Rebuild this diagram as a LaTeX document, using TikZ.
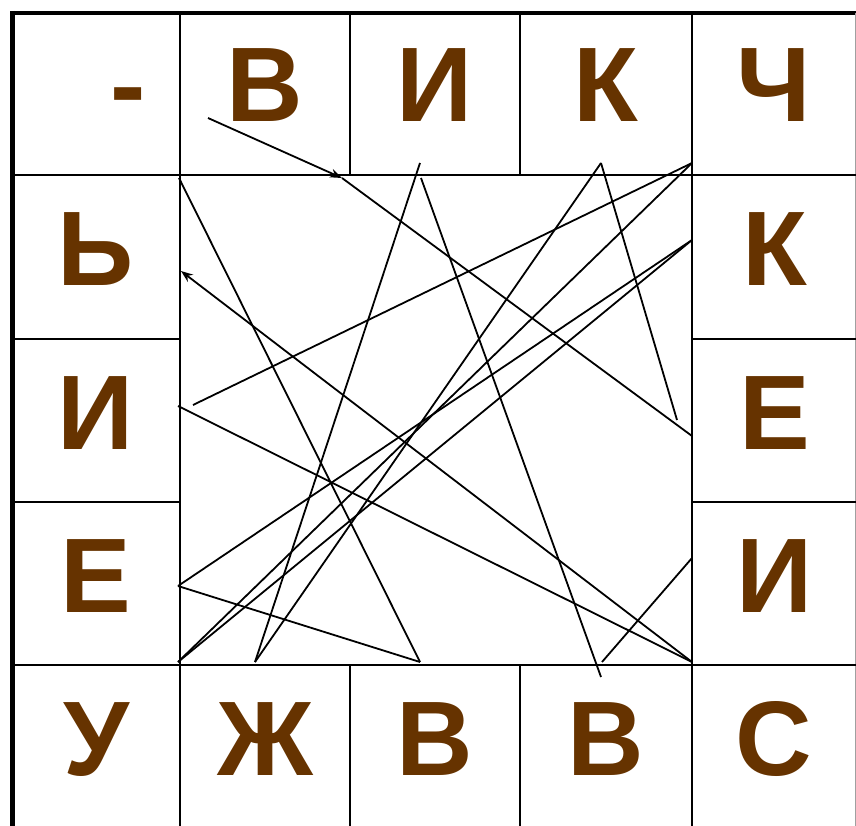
\documentclass[tikz,border=0pt]{standalone}
\usepackage{fontspec}
\setmainfont{Liberation Sans}
\usepackage{xcolor}
\usepackage{tikz}
\usetikzlibrary{arrows.meta}
\definecolor{letterbrown}{HTML}{663300}
\definecolor{edgegrey}{HTML}{A0A0A0}
\begin{document}
\begin{tikzpicture}[x=1pt,y=-1pt,
     lt/.style={anchor=base,inner sep=0pt,text=letterbrown,font=\bfseries\fontsize{106}{110}\selectfont},
     grid/.style={black,line width=2.8pt},
     trace/.style={black,line width=1.8pt},
     tracearr/.style={trace,-{Stealth[length=12pt,width=9pt,inset=4pt]}}]
    \useasboundingbox (0,0) rectangle (856,826);
    % frame and cells
    \draw[black,line width=4.5pt](12,13)--(856,13);
    \draw[black,line width=5pt](12,11)--(12,826);
    \draw[edgegrey,line width=1pt](855,13)--(855,826);
    \draw[grid](12,175)--(856,175);  \draw[grid](12,665)--(856,665);
    \draw[grid](12,339)--(180,339);  \draw[grid](692,339)--(856,339);
    \draw[grid](12,502)--(180,502);  \draw[grid](692,502)--(856,502);
    \draw[grid](180,13)--(180,826);  \draw[grid](692,13)--(692,826);
    \draw[grid](350,13)--(350,175);  \draw[grid](350,665)--(350,826);
    \draw[grid](520,13)--(520,175);  \draw[grid](520,665)--(520,826);
    % letters
    \node[lt](t1) at (128,122){-};   \node[lt](t2) at (265,122){В};
    \node[lt](t3) at (435,122){И};   \node[lt](t4) at (606,122){К};
    \node[lt](t5) at (774,122){Ч};
    \node[lt](l1) at (96,285){Ь};    \node[lt](l2) at (96,449){И};
    \node[lt](l3) at (96,612){Е};
    \node[lt](r1) at (775,285){К};   \node[lt](r2) at (775,449){Е};
    \node[lt](r3) at (775,612){И};
    \node[lt](b1) at (96,775){У};    \node[lt](b2) at (265,775){Ж};
    \node[lt](b3) at (435,775){В};   \node[lt](b4) at (606,775){В};
    \node[lt](b5) at (774,775){С};
    % trace ends
    \coordinate(p1) at (208,118);  \coordinate(p2) at (342,178);  \coordinate(p3) at (692,436);
    \coordinate(p4) at (179,178);  \coordinate(p5) at (420,662);  \coordinate(p6) at (178,586);
    \coordinate(p7) at (692,240);  \coordinate(p8) at (178,662);  \coordinate(p9) at (692,163);
    \coordinate(p10) at (193,405); \coordinate(p11) at (420,163); \coordinate(p12) at (255,662);
    \coordinate(p13) at (601,163); \coordinate(p14) at (677,420); \coordinate(p15) at (421,178);
    \coordinate(p16) at (601,677); \coordinate(p17) at (178,406); \coordinate(p18) at (692,662);
    \coordinate(p19) at (181,271); \coordinate(p20) at (602,662); \coordinate(p21) at (692,558);
    \draw[tracearr](p1)--(p2);
    \draw[tracearr](p18)--(p19);
    \foreach \i/\j in {p2/p3,p4/p5,p5/p6,p6/p7,p8/p7,p8/p9,p10/p9,p11/p12,p12/p13,p13/p14,p15/p16,p17/p18,p20/p21}{\draw[trace](\i)--(\j);}
  \end{tikzpicture}
\end{document}
